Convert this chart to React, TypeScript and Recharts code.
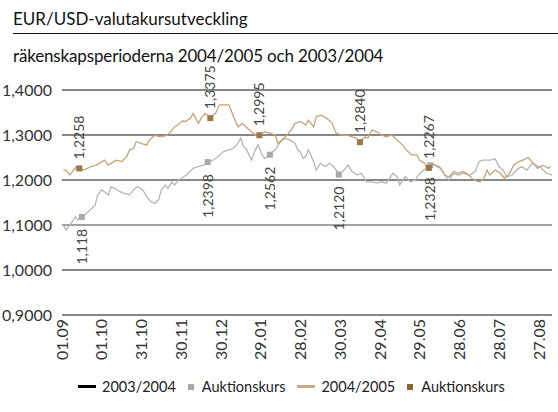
import {
  ComposedChart,
  Line,
  Scatter,
  XAxis,
  YAxis,
  CartesianGrid,
  ReferenceLine,
} from "recharts";

const FONT = "Lato, 'Open Sans', sans-serif";

// day index from 1 Sep, ticks every 30 days
const dateTicks = [0, 30, 60, 90, 120, 150, 180, 210, 240, 270, 300, 330, 360];
const dateLabels = [
  "01.09", "01.10", "31.10", "30.11", "30.12", "29.01", "28.02",
  "30.03", "29.04", "29.05", "28.06", "28.07", "27.08",
];
const rateTicks = [0.9, 1.0, 1.1, 1.2, 1.3, 1.4];

// 2003/2004 [day, rate]
const rate0304 = [
  [1, 1.1], [3, 1.089], [7, 1.104], [10, 1.118], [12, 1.111], [15, 1.12],
  [17, 1.122], [21, 1.133], [25, 1.144], [27, 1.167], [30, 1.178], [32, 1.174],
  [35, 1.167], [37, 1.185], [40, 1.181], [44, 1.174], [47, 1.17], [51, 1.167],
  [55, 1.181], [57, 1.185], [61, 1.178], [64, 1.163], [67, 1.152], [70, 1.148],
  [73, 1.156], [75, 1.178], [78, 1.189], [80, 1.181], [83, 1.196], [85, 1.189],
  [88, 1.2], [90, 1.204], [94, 1.211], [99, 1.226], [103, 1.23], [107, 1.233],
  [110, 1.24], [114, 1.244], [118, 1.252], [122, 1.263], [126, 1.267], [129, 1.27],
  [132, 1.278], [135, 1.293], [137, 1.274], [139, 1.27], [143, 1.244], [146, 1.267],
  [148, 1.278], [151, 1.256], [153, 1.248], [157, 1.257], [161, 1.267], [165, 1.285],
  [168, 1.293], [172, 1.289], [176, 1.281], [178, 1.267], [180, 1.262], [182, 1.248],
  [184, 1.252], [186, 1.267], [190, 1.241], [192, 1.222], [195, 1.237], [199, 1.23],
  [202, 1.237], [205, 1.23], [209, 1.214], [212, 1.219], [216, 1.233], [219, 1.219],
  [223, 1.211], [226, 1.215], [230, 1.196], [234, 1.196], [238, 1.193], [241, 1.196],
  [245, 1.193], [248, 1.207], [250, 1.215], [253, 1.207], [255, 1.189], [259, 1.207],
  [263, 1.196], [267, 1.2], [269, 1.211], [273, 1.222], [277, 1.23], [278, 1.234],
  [282, 1.233], [285, 1.23], [289, 1.211], [292, 1.2], [296, 1.215], [299, 1.211],
  [303, 1.215], [308, 1.211], [312, 1.219], [315, 1.241], [318, 1.244], [323, 1.244],
  [327, 1.247], [330, 1.23], [333, 1.222], [336, 1.207], [340, 1.211], [343, 1.222],
  [347, 1.23], [351, 1.222], [355, 1.237], [358, 1.233], [362, 1.226], [366, 1.215],
  [370, 1.211],
];

// 2004/2005 [day, rate]
const rate0405 = [
  [1, 1.222], [3, 1.222], [6, 1.211], [8, 1.219], [11, 1.23], [13, 1.228],
  [16, 1.222], [18, 1.224], [22, 1.23], [26, 1.233], [28, 1.237], [32, 1.244],
  [35, 1.233], [37, 1.237], [41, 1.244], [45, 1.241], [49, 1.252], [51, 1.267],
  [54, 1.27], [56, 1.285], [60, 1.281], [64, 1.278], [66, 1.289], [70, 1.299],
  [74, 1.296], [78, 1.298], [81, 1.304], [85, 1.318], [89, 1.326], [91, 1.331],
  [93, 1.33], [97, 1.337], [99, 1.348], [103, 1.326], [105, 1.337], [108, 1.348],
  [112, 1.34], [116, 1.348], [119, 1.367], [123, 1.367], [126, 1.367], [128, 1.352],
  [131, 1.33], [133, 1.318], [136, 1.326], [139, 1.318], [143, 1.307], [146, 1.3],
  [149, 1.302], [153, 1.307], [157, 1.304], [161, 1.3], [163, 1.281], [166, 1.289],
  [170, 1.3], [173, 1.311], [176, 1.326], [180, 1.33], [184, 1.322], [186, 1.333],
  [190, 1.318], [192, 1.341], [196, 1.344], [200, 1.337], [204, 1.326], [207, 1.304],
  [211, 1.3], [215, 1.3], [219, 1.296], [222, 1.293], [225, 1.286], [229, 1.296],
  [231, 1.293], [234, 1.311], [238, 1.307], [241, 1.3], [245, 1.296], [249, 1.3],
  [253, 1.289], [257, 1.278], [260, 1.267], [264, 1.256], [268, 1.256], [270, 1.244],
  [274, 1.237], [276, 1.222], [278, 1.228], [280, 1.237], [283, 1.23], [286, 1.226],
  [289, 1.211], [292, 1.207], [296, 1.219], [299, 1.215], [303, 1.219], [307, 1.211],
  [311, 1.2], [315, 1.196], [318, 1.2], [321, 1.222], [323, 1.211], [327, 1.222],
  [331, 1.215], [334, 1.204], [338, 1.215], [341, 1.233], [345, 1.241], [348, 1.244],
  [352, 1.25], [356, 1.237], [359, 1.226], [363, 1.233], [367, 1.226], [369, 1.23],
];

// auction rates
const auctionDays0304 = [15, 110, 157, 209, 278];
const auction0304 = [1.118, 1.2398, 1.2562, 1.212, 1.2328];
const auctionLabels0304 = ["1,118", "1,2398", "1,2562", "1,2120", "1,2328"];
const auctionDays0405 = [13, 112, 149, 225, 277];
const auction0405 = [1.2258, 1.3375, 1.2995, 1.284, 1.2267];
const auctionLabels0405 = ["1,2258", "1,3375", "1,2995", "1,2840", "1,2267"];

const toRows = (pairs: number[][]) => pairs.map(([d, v]) => ({ d, v }));
const toAuction = (days: number[], vals: number[], labels: string[]) =>
  days.map((d, i) => ({ d, v: vals[i], label: labels[i] }));

const GREY = "#b5b5b5";
const GREY_MARK = "#a9a9a9";
const TAN = "#c6a377";
const BROWN = "#9c7748";

function DateTick({ x, y, payload }: any) {
  const i = dateTicks.indexOf(payload.value);
  return (
    <text
      x={x}
      y={y}
      dy="0.36em"
      transform={`rotate(-90 ${x} ${y})`}
      textAnchor="end"
      fill="#333"
      fontSize={16}
      fontFamily={FONT}
    >
      {dateLabels[i]}
    </text>
  );
}

function AuctionMark({ cx, cy, payload, color, below }: any) {
  const ty = below ? cy + 12 : cy - 9;
  return (
    <g>
      <rect x={cx - 3} y={cy - 3} width={6} height={6} fill={color} />
      <text
        x={cx}
        y={ty}
        dy="0.36em"
        transform={`rotate(-90 ${cx} ${ty})`}
        textAnchor={below ? "end" : "start"}
        fill="#444"
        fontSize={14}
        fontFamily={FONT}
      >
        {payload.label}
      </text>
    </g>
  );
}

function LegendItem({ kind, color, text }: { kind: "line" | "box"; color: string; text: string }) {
  return (
    <span style={{ display: "inline-flex", alignItems: "center", marginRight: 12 }}>
      {kind === "line" ? (
        <span style={{ width: 18, height: 3, background: color, marginRight: 6 }} />
      ) : (
        <span style={{ width: 6, height: 6, background: color, marginRight: 8 }} />
      )}
      {text}
    </span>
  );
}

export default function App() {
  return (
    <div
      style={{
        position: "absolute",
        left: 0,
        top: 0,
        width: 558,
        height: 412,
        background: "#fff",
        fontFamily: FONT,
        color: "#111",
      }}
    >
      <div style={{ position: "absolute", left: 13, top: 8, fontSize: 17 }}>
        EUR/USD-valutakursutveckling
      </div>
      <div style={{ position: "absolute", left: 13, right: 0, top: 33, borderTop: "1px solid #111" }} />
      <div style={{ position: "absolute", left: 13, top: 45, fontSize: 17, letterSpacing: -0.15 }}>
        räkenskapsperioderna 2004/2005 och 2003/2004
      </div>

      <ComposedChart
        width={558}
        height={412}
        margin={{ top: 90, right: 6, bottom: 67, left: 0 }}
        style={{ position: "absolute", left: 0, top: 0 }}
      >
        <CartesianGrid horizontal vertical={false} stroke="#111" strokeWidth={1} />
        <ReferenceLine y={1.1} stroke="#aaa" strokeWidth={1.5} />
        <XAxis
          dataKey="d"
          type="number"
          domain={[0, 370]}
          ticks={dateTicks}
          tick={<DateTick />}
          height={30}
          axisLine={false}
          tickLine={false}
          tickSize={2}
          tickMargin={2}
          interval={0}
          allowDuplicatedCategory={false}
        />
        <YAxis
          type="number"
          domain={[0.9, 1.4]}
          ticks={rateTicks}
          width={62}
          axisLine={false}
          tickLine={false}
          tickMargin={4}
          tickFormatter={(v: number) => v.toFixed(4).replace(".", ",")}
          tick={{ fill: "#333", fontSize: 16, fontFamily: FONT }}
        />
        <Line
          data={toRows(rate0304)}
          dataKey="v"
          stroke={GREY}
          strokeWidth={1.3}
          dot={false}
          type="linear"
          isAnimationActive={false}
        />
        <Line
          data={toRows(rate0405)}
          dataKey="v"
          stroke={TAN}
          strokeWidth={1.3}
          dot={false}
          type="linear"
          isAnimationActive={false}
        />
        <Scatter
          data={toAuction(auctionDays0304, auction0304, auctionLabels0304)}
          dataKey="v"
          shape={(p: any) => <AuctionMark {...p} color={GREY_MARK} below />}
          isAnimationActive={false}
        />
        <Scatter
          data={toAuction(auctionDays0405, auction0405, auctionLabels0405)}
          dataKey="v"
          shape={(p: any) => <AuctionMark {...p} color={BROWN} />}
          isAnimationActive={false}
        />
      </ComposedChart>

      <div
        style={{
          position: "absolute",
          left: 78,
          top: 378,
          fontSize: 14.5,
          color: "#222",
          display: "flex",
          whiteSpace: "nowrap",
        }}
      >
        <LegendItem kind="line" color="#000" text="2003/2004" />
        <LegendItem kind="box" color={GREY_MARK} text="Auktionskurs" />
        <LegendItem kind="line" color="#c8ab86" text="2004/2005" />
        <LegendItem kind="box" color="#8a6535" text="Auktionskurs" />
      </div>
    </div>
  );
}
